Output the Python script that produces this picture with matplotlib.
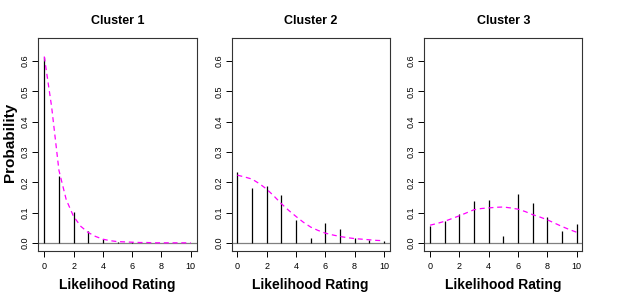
import matplotlib
matplotlib.use("Agg")
import matplotlib.pyplot as plt

plt.rcParams['font.family'] = ['Liberation Sans', 'DejaVu Sans']

ratings = list(range(11))
titles = ["Cluster 1", "Cluster 2", "Cluster 3"]

# observed probabilities (vertical lines)
obs1 = [0.615, 0.220, 0.101, 0.040, 0.015, 0.004, 0.003, 0.002, 0.001, 0.001, 0.001]
obs2 = [0.233, 0.182, 0.187, 0.160, 0.077, 0.018, 0.065, 0.047, 0.017, 0.009, 0.007]
obs3 = [0.057, 0.072, 0.096, 0.140, 0.143, 0.024, 0.162, 0.131, 0.085, 0.039, 0.063]

# fitted curves (dashed), read at half steps
curve_x = [0, 0.5, 1, 1.5, 2, 2.5, 3, 3.5, 4, 4.5, 5, 5.5, 6, 6.5, 7, 7.5, 8, 8.5, 9, 9.5, 10]
fit1 = [0.615, 0.45, 0.24, 0.143, 0.088, 0.055, 0.035, 0.022, 0.013, 0.008, 0.005, 0.004,
        0.003, 0.002, 0.002, 0.001, 0.001, 0.001, 0.001, 0.001, 0.001]
fit2 = [0.224, 0.218, 0.211, 0.196, 0.178, 0.155, 0.130, 0.108, 0.088, 0.069, 0.053, 0.042,
        0.033, 0.027, 0.022, 0.018, 0.015, 0.013, 0.011, 0.009, 0.008]
fit3 = [0.059, 0.065, 0.072, 0.081, 0.090, 0.100, 0.110, 0.114, 0.116, 0.118, 0.119, 0.116,
        0.112, 0.104, 0.094, 0.086, 0.077, 0.066, 0.055, 0.045, 0.036]

observed = [obs1, obs2, obs3]
fitted = [fit1, fit2, fit3]

fig = plt.figure(figsize=(6.35, 3.0), dpi=100)
lefts = [0.0605, 0.3646, 0.668]

for i in range(3):
    ax = fig.add_axes([lefts[i], 0.1633, 0.2491, 0.71])
    ax.axhline(0, color="#808080", lw=0.9, zorder=1)
    ax.vlines(ratings, 0, observed[i], color="black", lw=0.9, zorder=2)
    ax.plot(curve_x, fitted[i], color="#ff00ff", lw=0.9, ls=(0, (4, 3)), zorder=3)
    ax.set_xlim(-0.4, 10.4)
    ax.set_ylim(-0.026, 0.676)
    ax.set_xticks([0, 2, 4, 6, 8, 10])
    ax.set_yticks([0.0, 0.1, 0.2, 0.3, 0.4, 0.5, 0.6])
    ax.set_yticklabels(["0.0", "0.1", "0.2", "0.3", "0.4", "0.5", "0.6"], rotation=90, va="center")
    ax.tick_params(labelsize=6.5, length=4, width=0.7)
    ax.tick_params(axis="x", pad=4)
    ax.tick_params(axis="y", pad=2)
    for sp in ax.spines.values():
        sp.set_linewidth(0.8)
        sp.set_color("#333333")
    ax.set_title(titles[i], fontsize=9, fontweight="bold", pad=10)
    ax.set_xlabel("Likelihood Rating", fontsize=10, fontweight="bold", labelpad=5)

fig.text(0.016, 0.527, "Probability", rotation=90, ha="center", va="center",
         fontsize=11, fontweight="bold")

fig.savefig("out.png", dpi=100)
